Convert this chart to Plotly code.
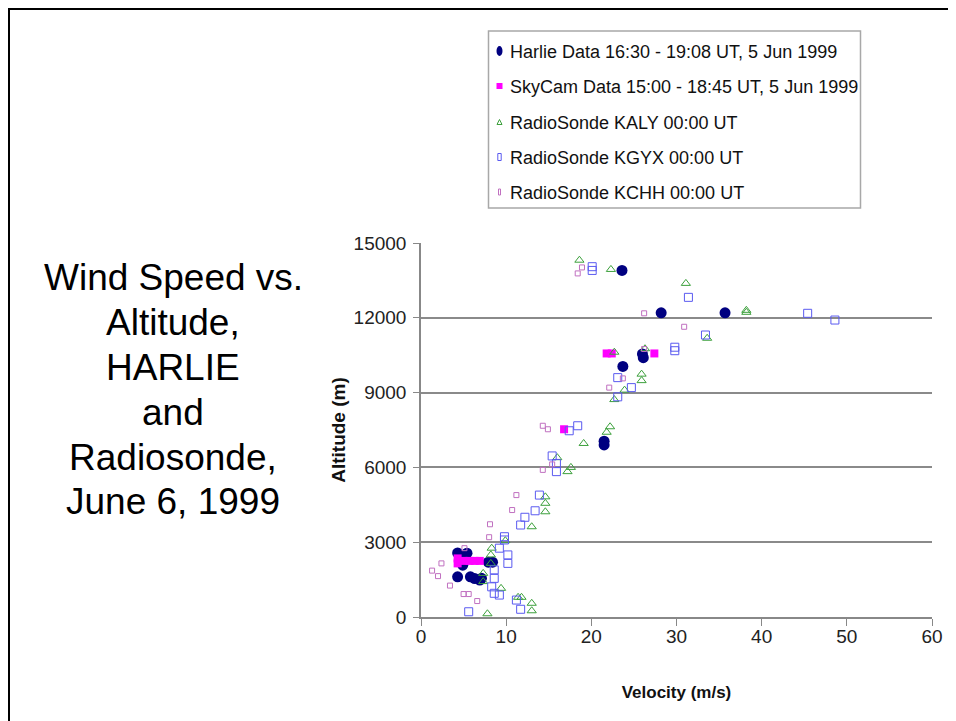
import plotly.graph_objects as go

# ---- data ----
harlie_v = [23.6, 28.2, 35.7, 26.1, 26.0, 23.7, 21.5, 21.5,
            4.3, 5.4, 4.9, 5.2, 7.9, 8.4, 4.3, 5.8, 6.3, 6.9, 7.1]
harlie_alt = [13900, 12200, 12200, 10400, 10550, 10050, 6900, 7050,
              2570, 2560, 2080, 2300, 2200, 2200, 1610, 1610, 1540, 1480, 1550]

skycam_v = [4.3, 4.3, 5.0, 5.7, 6.3, 6.9, 16.8, 21.8, 22.4, 27.4]
skycam_alt = [2350, 2150, 2250, 2250, 2250, 2250, 7530, 10570, 10570, 10570]

kaly_v = [18.6, 22.3, 31.1, 38.2, 38.2, 33.6, 22.7, 26.3, 25.9, 25.9, 23.9, 22.7,
          22.2, 21.8, 19.1, 16.0, 17.6, 17.2, 14.6, 14.6, 14.6, 13.0, 9.9, 8.3,
          8.2, 8.2, 7.3, 7.3, 9.4, 11.4, 11.8, 13.0, 13.0, 7.8]
kaly_alt = [14310, 13940, 13380, 12220, 12300, 11180, 10620, 10760, 9740, 9480, 9100, 8720,
            7630, 7410, 6960, 6390, 6000, 5830, 4820, 4560, 4220, 3620, 3060, 2760,
            2490, 2150, 1750, 1420, 1150, 790, 790, 550, 250, 130]

kgyx_v = [20.1, 20.1, 31.4, 45.4, 48.6, 33.4, 29.8, 29.8, 23.1, 24.7, 23.1,
          18.4, 17.4, 15.4, 15.9, 15.9, 13.9, 13.4, 12.2, 11.7, 9.8, 9.8,
          9.2, 10.2, 10.2, 8.6, 8.6, 8.3, 8.6, 9.2, 11.2, 11.7, 5.6]
kgyx_alt = [14050, 13900, 12820, 12180, 11910, 11310, 10680, 10820, 9600, 9200, 8830,
            7670, 7470, 6460, 6160, 5830, 4890, 4260, 4000, 3690, 3220, 3090,
            2760, 2490, 2150, 1890, 1550, 1210, 950, 880, 680, 310, 210]

kchh_v = [18.9, 18.4, 26.2, 30.9, 26.2, 23.7, 22.1, 14.3, 14.9, 14.3, 15.4, 11.2,
          10.7, 8.1, 8.0, 5.1, 2.4, 1.3, 2.0, 3.4, 5.0, 5.6, 6.6]
kchh_alt = [14020, 13780, 12180, 11640, 10750, 9570, 9200, 7670, 7530, 5900, 6120, 4890,
            4290, 3720, 3200, 2760, 2150, 1860, 1640, 1260, 920, 920, 640]

names = ["Harlie Data 16:30 - 19:08 UT, 5 Jun 1999",
         "SkyCam Data 15:00 - 18:45 UT, 5 Jun 1999",
         "RadioSonde KALY 00:00 UT",
         "RadioSonde KGYX 00:00 UT",
         "RadioSonde KCHH 00:00 UT"]

x_ticks = [0, 10, 20, 30, 40, 50, 60]
y_ticks = [0, 3000, 6000, 9000, 12000, 15000]

title_lines = ["Wind Speed vs.", "Altitude,", "HARLIE", "and", "Radiosonde,", "June 6, 1999"]

FONT = "Arial, Liberation Sans, sans-serif"
C_HARLIE, C_SKY, C_KALY, C_KGYX, C_KCHH = "#000080", "#FF00FF", "#3CA03C", "#5A5AF0", "#C070C0"

# page-pixel -> paper helpers (plot area: x 421..932, y 243..617 on the page)
PL, PW, PB, PH = 421.0, 511.0, 617.0, 374.0
def fx(p):
    return (p - PL) / PW
def fy(p):
    return (PB - p) / PH

fig = go.Figure()
fig.add_trace(go.Scatter(x=harlie_v, y=harlie_alt, mode="markers", name=names[0],
                         marker=dict(symbol="circle", size=11, color=C_HARLIE,
                                     line=dict(width=0))))
fig.add_trace(go.Scatter(x=skycam_v, y=skycam_alt, mode="markers", name=names[1],
                         marker=dict(symbol="square", size=8, color=C_SKY,
                                     line=dict(width=0))))
fig.add_trace(go.Scatter(x=kaly_v, y=kaly_alt, mode="markers", name=names[2],
                         marker=dict(symbol="triangle-up-open", size=8, color=C_KALY,
                                     line=dict(width=1, color=C_KALY))))
fig.add_trace(go.Scatter(x=kgyx_v, y=kgyx_alt, mode="markers", name=names[3],
                         marker=dict(symbol="square-open", size=8, color=C_KGYX,
                                     line=dict(width=1, color=C_KGYX))))
fig.add_trace(go.Scatter(x=kchh_v, y=kchh_alt, mode="markers", name=names[4],
                         marker=dict(symbol="square-open", size=5, color=C_KCHH,
                                     line=dict(width=1, color=C_KCHH))))

# ---- hand-made legend (box, swatches, labels) ----
shapes = []
annotations = []
shapes.append(dict(type="rect", xref="paper", yref="paper",
                   x0=fx(488.5), x1=fx(860.5), y0=fy(208), y1=fy(31),
                   line=dict(color="#A8A8A8", width=1.5), fillcolor="white", layer="above"))
row_y = [51, 86, 122, 157, 192]
mx = 499.5
shapes.append(dict(type="circle", xref="paper", yref="paper",
                   x0=fx(mx - 3), x1=fx(mx + 3), y0=fy(row_y[0] + 5), y1=fy(row_y[0] - 5),
                   line=dict(width=0), fillcolor=C_HARLIE, layer="above"))
shapes.append(dict(type="rect", xref="paper", yref="paper",
                   x0=fx(mx - 3), x1=fx(mx + 3), y0=fy(row_y[1] + 3), y1=fy(row_y[1] - 3),
                   line=dict(width=0), fillcolor=C_SKY, layer="above"))
ty = row_y[2]
shapes.append(dict(type="path", xref="paper", yref="paper",
                   path="M %f,%f L %f,%f L %f,%f Z" % (fx(mx - 2.5), fy(ty + 2.5),
                                                        fx(mx + 2.5), fy(ty + 2.5),
                                                        fx(mx), fy(ty - 2.5)),
                   line=dict(width=1, color=C_KALY), fillcolor="rgba(0,0,0,0)", layer="above"))
shapes.append(dict(type="rect", xref="paper", yref="paper",
                   x0=fx(mx - 1.7), x1=fx(mx + 1.7), y0=fy(row_y[3] + 3.5), y1=fy(row_y[3] - 3.5),
                   line=dict(width=1, color=C_KGYX), fillcolor="rgba(0,0,0,0)", layer="above"))
shapes.append(dict(type="rect", xref="paper", yref="paper",
                   x0=fx(mx - 1), x1=fx(mx + 1), y0=fy(row_y[4] + 3), y1=fy(row_y[4] - 3),
                   line=dict(width=1, color=C_KCHH), fillcolor="rgba(0,0,0,0)", layer="above"))
for nm, ry in zip(names, row_y):
    annotations.append(dict(text=nm, xref="paper", yref="paper", x=fx(508), y=fy(ry + 1),
                            xanchor="left", yanchor="middle", showarrow=False,
                            font=dict(family=FONT, size=18, color="#111111")))

# slide title, one annotation per line
title_y = [277, 322, 367, 412, 457, 501]
for line, ly in zip(title_lines, title_y):
    annotations.append(dict(text=line, xref="paper", yref="paper",
                            x=fx(173), y=fy(ly),
                            xanchor="center", yanchor="middle", showarrow=False,
                            font=dict(family=FONT, size=37, color="black")))

# outer slide frame: top and left edges
shapes.append(dict(type="line", xref="paper", yref="paper",
                   x0=fx(8), x1=fx(948), y0=fy(9), y1=fy(9),
                   line=dict(color="black", width=2), layer="below"))
shapes.append(dict(type="line", xref="paper", yref="paper",
                   x0=fx(9), x1=fx(9), y0=fy(8), y1=fy(721),
                   line=dict(color="black", width=2), layer="below"))

fig.update_layout(
    width=940, height=713, autosize=False,
    margin=dict(l=413, r=16, t=235, b=104, pad=0, autoexpand=False),
    paper_bgcolor="white", plot_bgcolor="white",
    font=dict(family=FONT, size=17, color="#222222"),
    showlegend=False,
    xaxis=dict(range=[0, 60], tickvals=x_ticks, ticktext=[str(v) for v in x_ticks],
               automargin=False,
               showgrid=False, zeroline=False, showline=True, linecolor="#888888",
               linewidth=1.5, ticks="outside", ticklen=7, tickcolor="#888888",
               tickfont=dict(size=19, color="#222222"), ticklabelstandoff=-6,
               title=dict(text="<b>Velocity (m/s)</b>", font=dict(size=17, color="#111111"),
                          standoff=41)),
    yaxis=dict(range=[0, 15000], tickvals=y_ticks, ticktext=[str(v) for v in y_ticks],
               automargin=False,
               showgrid=True, gridcolor="#8A8A8A", gridwidth=1.5, zeroline=False,
               showline=True, linecolor="#888888", linewidth=1.5,
               ticks="outside", ticklen=6, tickcolor="#888888",
               tickfont=dict(size=19, color="#222222"), ticklabelstandoff=3,
               title=dict(text="<b>Altitude (m)</b>", font=dict(size=19, color="#111111"),
                          standoff=3)),
    annotations=annotations,
    shapes=shapes,
)

fig.write_html("out.html")
